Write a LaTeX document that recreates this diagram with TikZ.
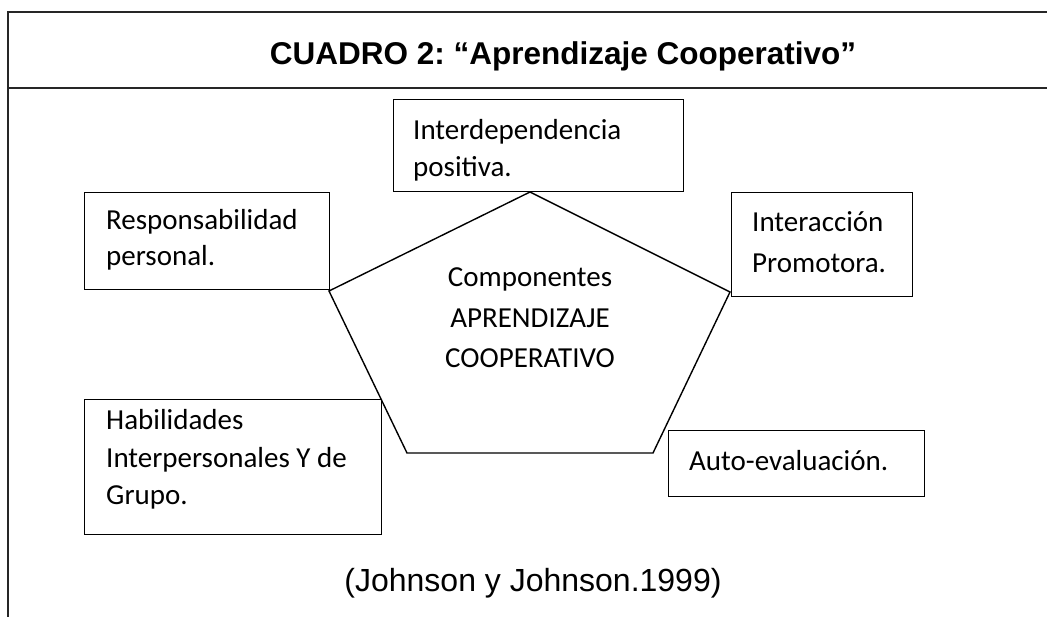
\documentclass[tikz,border=0pt]{standalone}
\usepackage{fontspec}
\setmainfont{Carlito}
\newfontfamily\arialfont{Liberation Sans}
\frenchspacing
\begin{document}
\begin{tikzpicture}[x=1pt,y=-1pt,
  framestyle/.style={line width=1.8pt,draw=black!85},
  boxstyle/.style={draw=black,line width=1.4pt,inner sep=0pt,anchor=north west},
  boxtext/.style={inner sep=0pt,anchor=base west,font=\fontsize{29}{35}\selectfont},
  pentext/.style={inner sep=0pt,anchor=base,font=\fontsize{29}{35}\selectfont},
  pentastyle/.style={draw=black,line width=1.4pt,line join=miter}]
\useasboundingbox (0,0) rectangle (1047,617);
% frame
\coordinate (fBL) at (8,617);
\coordinate (fTL) at (8,12);
\coordinate (fTR) at (1047,12);
\coordinate (sL) at (8,88);
\coordinate (sR) at (1047,88);
\draw[framestyle] (fBL) -- (fTL) -- (fTR);
\draw[framestyle] (sL) -- (sR);
\node[inner sep=0pt,anchor=base,font=\arialfont\bfseries\fontsize{31.5}{36}\selectfont] (title) at (563,65) {CUADRO 2: “Aprendizaje Cooperativo”};
% pentagon
\coordinate (pT) at (530,192);
\coordinate (pR) at (730,292);
\coordinate (pBR) at (653,453);
\coordinate (pBL) at (407,453);
\coordinate (pL) at (329,291);
\draw[pentastyle] (pT) -- (pR) -- (pBR) -- (pBL) -- (pL) -- cycle;
\node[pentext] (c1) at (530,287) {Componentes};
\node[pentext] (c2) at (530,328) {APRENDIZAJE};
\node[pentext] (c3) at (530,368) {COOPERATIVO};
% boxes
\node[boxstyle,minimum width=290pt,minimum height=92pt] (bInter) at (393,99) {};
\node[boxtext] (t1a) at (413,140) {Interdependencia};
\node[boxtext] (t1b) at (413,177) {positiva.};
\node[boxstyle,minimum width=245pt,minimum height=97pt] (bResp) at (84,192) {};
\node[boxtext] (t2a) at (106,230) {Responsabilidad};
\node[boxtext] (t2b) at (106,266) {personal.};
\node[boxstyle,minimum width=181pt,minimum height=104pt] (bProm) at (731,192) {};
\node[boxtext] (t3a) at (752,232) {Interacción};
\node[boxtext] (t3b) at (752,273) {Promotora.};
\node[boxstyle,minimum width=297pt,minimum height=135pt] (bHab) at (84,399) {};
\node[boxtext] (t4a) at (106,430) {Habilidades};
\node[boxtext] (t4b) at (106,467) {Interpersonales Y de};
\node[boxtext] (t4c) at (106,504) {Grupo.};
\node[boxstyle,minimum width=256pt,minimum height=66pt] (bAuto) at (668,430) {};
\node[boxtext] (t5a) at (689,471) {Auto-evaluación.};
% citation
\node[inner sep=0pt,anchor=base,font=\arialfont\fontsize{32}{38}\selectfont] (cite) at (533,591) {(Johnson y Johnson.1999)};
\end{tikzpicture}
\end{document}
